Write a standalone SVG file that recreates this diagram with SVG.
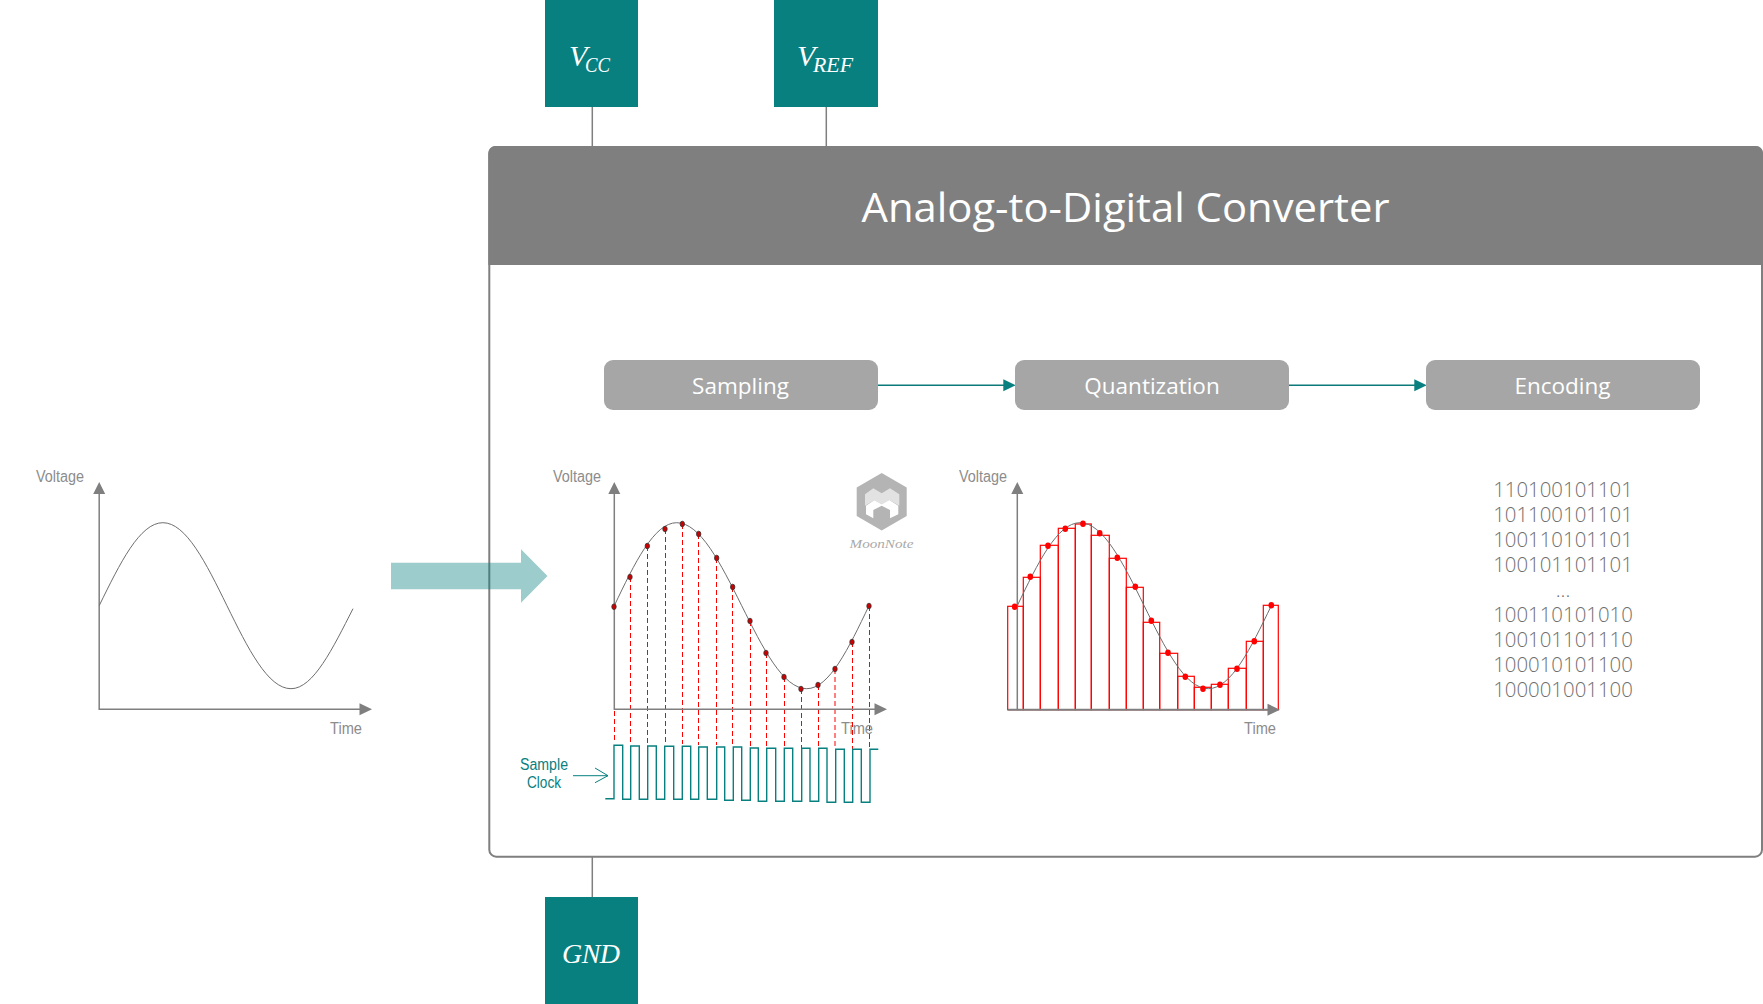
<svg xmlns="http://www.w3.org/2000/svg" width="1763" height="1004" viewBox="0 0 1763 1004">
<style>
.ax{stroke:#7f7f7f;stroke-width:1.5;fill:none}
.ah{fill:#7f7f7f}
.cv{stroke:#6e6e6e;stroke-width:1;fill:none}
.lb{font-family:"Liberation Sans Narrow","Liberation Sans",sans-serif;font-size:16px;fill:#8c8c8c}
.tm{fill:#088080}
.mv{font-family:"Liberation Serif",serif;font-style:italic;fill:#fff}
.pb{fill:#a6a6a6}
.pt{font-family:"Open Sans",sans-serif;font-size:22.5px;fill:#fff;text-anchor:middle}
.bn{font-family:"Open Sans",sans-serif;font-weight:300;font-size:20.4px;fill:#6f6f6f;text-anchor:middle}
.dash{stroke:#f00;stroke-width:1;stroke-dasharray:5 3;fill:none}
.tl{stroke:#088080;stroke-width:1.4;fill:none}
.dk{fill:#c00;stroke:#333;stroke-width:.8}
.rd{fill:#f00}
.st{stroke:#f00;stroke-width:1.2;fill:none}
</style>
<rect width="1763" height="1004" fill="#fff"/>
<g id="adc-box">
<rect x="489.300" y="147" width="1272.700" height="709.700" rx="7" fill="#fff" stroke="#7f7f7f" stroke-width="2"/>
<path d="M488.300 265V153a7 7 0 0 1 7-7H1756a7 7 0 0 1 7 7V265z" fill="#7f7f7f"/>
<text x="1125.500" y="222" font-family="'Open Sans',sans-serif" font-size="40px" fill="#fff" text-anchor="middle" textLength="528" lengthAdjust="spacingAndGlyphs">Analog-to-Digital Converter</text>
</g>
<g id="connectors">
<path d="M592.300 107V146M826.300 107V146M592.300 857V897" stroke="#7f7f7f" stroke-width="1.5" fill="none"/>
<path d="M878 385.300H1004M1289 385.300H1415" stroke="#0b7a78" stroke-width="1.5" fill="none"/>
<path d="M1003.300 379.300L1015.700 385.300L1003.300 391.300zM1414.300 379.300L1426.700 385.300L1414.300 391.300z" fill="#088080"/>
</g>
<g id="vcc"><rect class="tm" x="545" y="0" width="93" height="107"/><text class="mv" x="569" y="66" font-size="30px">V</text><text class="mv" x="585" y="72" font-size="22px" textLength="25" lengthAdjust="spacingAndGlyphs">CC</text></g>
<g id="vref"><rect class="tm" x="774" y="0" width="104" height="107"/><text class="mv" x="797" y="66" font-size="30px">V</text><text class="mv" x="813" y="72" font-size="22px" textLength="40" lengthAdjust="spacingAndGlyphs">REF</text></g>
<g id="gnd"><rect class="tm" x="545" y="897" width="93" height="107"/><text class="mv" x="562" y="963" font-size="28px" textLength="58">GND</text></g>
<g id="sampling"><rect class="pb" x="604" y="360" width="274" height="50" rx="9"/><text class="pt" x="740.500" y="394">Sampling</text></g>
<g id="quantization"><rect class="pb" x="1015" y="360" width="274" height="50" rx="9"/><text class="pt" x="1152" y="394">Quantization</text></g>
<g id="encoding"><rect class="pb" x="1426" y="360" width="274" height="50" rx="9"/><text class="pt" x="1562.500" y="394">Encoding</text></g>
<g id="input-plot">
<path class="ax" d="M99.200 493V709.300H360"/>
<path class="ah" d="M99.200 482l6 12h-12zM372 709.300l-12.500 6v-12z"/>
<path class="cv" d="M99.200 605.700c20.800 -42.500 40.600 -83 63.700 -83c23.200 0 43.200 40.500 64.050 83c20.900 42.500 40.900 83 64.050 83c22.400 0 41.800 -40.500 62 -80"/>
<text class="lb" x="36" y="482" textLength="48" lengthAdjust="spacingAndGlyphs">Voltage</text>
<text class="lb" x="330" y="734" textLength="32" lengthAdjust="spacingAndGlyphs">Time</text>
</g>
<g id="sampling-plot">
<path class="dash" d="M614.500 607V742M630.500 577V742M647.500 546V744M665.500 529V743M682.500 524V744M698.500 534V745M716.500 558V745M732.500 587V745M750.500 621V747M766.500 653V749M784.500 677V750M801.500 689V752M818.500 685V750M835 669V748M852.500 642V749M869.500 606V749"/>
<path class="ax" d="M614.300 493V709.300H875"/>
<path class="ah" d="M614.300 482l6 12h-12zM887 709.300l-12.500 6v-12z"/>
<path class="cv" d="M614.300 605.700c20.300 -42.500 39.800 -83 62.400 -83c23.500 0 43.800 40.500 65 83c21.200 42.500 41.500 83 65 83c22.600 0 42 -40.500 62.300 -83"/>
<g class="dk"><ellipse cx="614" cy="606.700" rx="2.200" ry="2.800"/><ellipse cx="630" cy="577" rx="2.200" ry="2.800"/><ellipse cx="647.300" cy="546" rx="2.200" ry="2.800"/><ellipse cx="665" cy="529" rx="2.200" ry="2.800"/><ellipse cx="682.300" cy="524" rx="2.200" ry="2.800"/><ellipse cx="698.700" cy="534" rx="2.200" ry="2.800"/><ellipse cx="716.700" cy="558" rx="2.200" ry="2.800"/><ellipse cx="732.700" cy="587" rx="2.200" ry="2.800"/><ellipse cx="750" cy="621" rx="2.200" ry="2.800"/><ellipse cx="766" cy="653" rx="2.200" ry="2.800"/><ellipse cx="784" cy="677" rx="2.200" ry="2.800"/><ellipse cx="801" cy="689" rx="2.200" ry="2.800"/><ellipse cx="818" cy="685" rx="2.200" ry="2.800"/><ellipse cx="835" cy="669" rx="2.200" ry="2.800"/><ellipse cx="852" cy="642" rx="2.200" ry="2.800"/><ellipse cx="869" cy="606" rx="2.200" ry="2.800"/></g>
<path class="tl" d="M605.300 798.700H614V745.300H622.700V799.300H630.700V746H639.300V799.300H647.700V746H656.300V799.300H664.700V746.300H673.700V799.300H682.300V746.300H690.700V799.300H698.700V747H707.300V799.300H716.700V747H724.700V800.300H733.300V747H741.700V800.300H750.300V748H758.300V801.300H766.700V748.300H775.700V801.300H784.300V748.300H792.700V801.300H801.700V748.300H810V801.300H818.700V748.300H827V802.300H835.700V749.300H844.300V802.300H852.700V749.300H861.300V802.300H870V749.300H878.300"/>
<text class="lb" x="553" y="482" textLength="48" lengthAdjust="spacingAndGlyphs">Voltage</text>
<text class="lb" x="841" y="734" textLength="32" lengthAdjust="spacingAndGlyphs">Time</text>
</g>
<g id="sample-clock">
<text class="lb" x="520" y="770" textLength="48" lengthAdjust="spacingAndGlyphs" style="fill:#088080">Sample</text>
<text class="lb" x="527" y="788" textLength="34" lengthAdjust="spacingAndGlyphs" style="fill:#088080">Clock</text>
<path d="M573 775.700H608M595 768l13 7.700-13 7" stroke="#088080" stroke-width="1" fill="none"/>
</g>
<g id="logo">
<path d="M881.700 473L906.700 487.500V516L881.700 530.500L856.700 516V487.500z" fill="#b4b4b4"/>
<path d="M865 494.300L873.300 488.300L881.700 493.300L890 488.300L899.300 494.300V505.700L889.300 500L881.700 504.300L874.300 500.300L865 505.700z" fill="#e2e2e2"/>
<path d="M866 505.700L874.300 500.300L881.700 504.300L889.300 500L898.300 505.700V514.300L890 518.300V510L881.700 505.700L873.300 510V518.300L866 514.300z" fill="#fff"/>
<text x="881.500" y="548" font-family="'Liberation Serif',serif" font-style="italic" font-size="13px" fill="#aaa" text-anchor="middle" textLength="64" lengthAdjust="spacingAndGlyphs">MoonNote</text>
</g>
<g id="quantization-plot">
<g class="st"><rect x="1007.700" y="606.300" width="15.600" height="103.400"/><rect x="1023.300" y="577.300" width="17" height="132.400"/><rect x="1040.300" y="545.300" width="18" height="164.400"/><rect x="1058.300" y="528.300" width="17" height="181.400"/><rect x="1075.300" y="524" width="16" height="185.700"/><rect x="1091.300" y="535.300" width="18" height="174.400"/><rect x="1109.300" y="558.300" width="17" height="151.400"/><rect x="1126.300" y="587.300" width="17" height="122.400"/><rect x="1143.300" y="622.300" width="16.400" height="87.400"/><rect x="1159.700" y="653.300" width="18" height="56.400"/><rect x="1177.700" y="676.300" width="16.600" height="33.400"/><rect x="1194.300" y="687.300" width="17" height="22.400"/><rect x="1211.300" y="684.300" width="17" height="25.400"/><rect x="1228.300" y="668.300" width="18" height="41.400"/><rect x="1246.300" y="641.300" width="17" height="68.400"/><rect x="1263.300" y="605.300" width="15" height="104.400"/></g>
<path class="ax" d="M1017.300 493V709.700"/>
<path d="M1007.700 709.700H1268" stroke="#7f7f7f" stroke-width="2" fill="none"/>
<path class="ah" d="M1017.300 482l6 12h-12zM1280 709.700l-12.500 6v-12z"/>
<path class="cv" d="M1017.300 605.700c20.400 -42.500 40 -83 62.700 -83c23.200 0 43.200 40.500 64.150 83c20.900 42.500 40.900 83 64.150 83c22.800 0 42.500 -40.500 63 -83"/>
<g class="rd"><ellipse cx="1014.700" cy="606.700" rx="2.800" ry="3.200"/><ellipse cx="1030.300" cy="576.700" rx="2.800" ry="3.200"/><ellipse cx="1048" cy="545.700" rx="2.800" ry="3.200"/><ellipse cx="1065.300" cy="528.700" rx="2.800" ry="3.200"/><ellipse cx="1083" cy="523.700" rx="2.800" ry="3.200"/><ellipse cx="1099.700" cy="533.300" rx="2.800" ry="3.200"/><ellipse cx="1117.300" cy="557.700" rx="2.800" ry="3.200"/><ellipse cx="1135.300" cy="586.700" rx="2.800" ry="3.200"/><ellipse cx="1151.300" cy="620.700" rx="2.800" ry="3.200"/><ellipse cx="1168" cy="652.700" rx="2.800" ry="3.200"/><ellipse cx="1185.300" cy="676.700" rx="2.800" ry="3.200"/><ellipse cx="1203" cy="688.700" rx="2.800" ry="3.200"/><ellipse cx="1220" cy="684.700" rx="2.800" ry="3.200"/><ellipse cx="1237" cy="668.700" rx="2.800" ry="3.200"/><ellipse cx="1254.300" cy="641.300" rx="2.800" ry="3.200"/><ellipse cx="1271.300" cy="605.300" rx="2.800" ry="3.200"/></g>
<text class="lb" x="959" y="482" textLength="48" lengthAdjust="spacingAndGlyphs">Voltage</text>
<text class="lb" x="1244" y="734" textLength="32" lengthAdjust="spacingAndGlyphs">Time</text>
</g>
<g id="binary-output">
<text class="bn" x="1563" y="497">110100101101</text>
<text class="bn" x="1563" y="522">101100101101</text>
<text class="bn" x="1563" y="547">100110101101</text>
<text class="bn" x="1563" y="572">100101101101</text>
<text class="bn" x="1563" y="597">...</text>
<text class="bn" x="1563" y="622">100110101010</text>
<text class="bn" x="1563" y="647">100101101110</text>
<text class="bn" x="1563" y="672">100010101100</text>
<text class="bn" x="1563" y="697">100001001100</text>
</g>
<g id="input-arrow">
<path d="M391 562.700H521V549.300L547.500 576L521 602.700V589.300H391z" fill="#088080" opacity=".4"/>
</g>
</svg>
